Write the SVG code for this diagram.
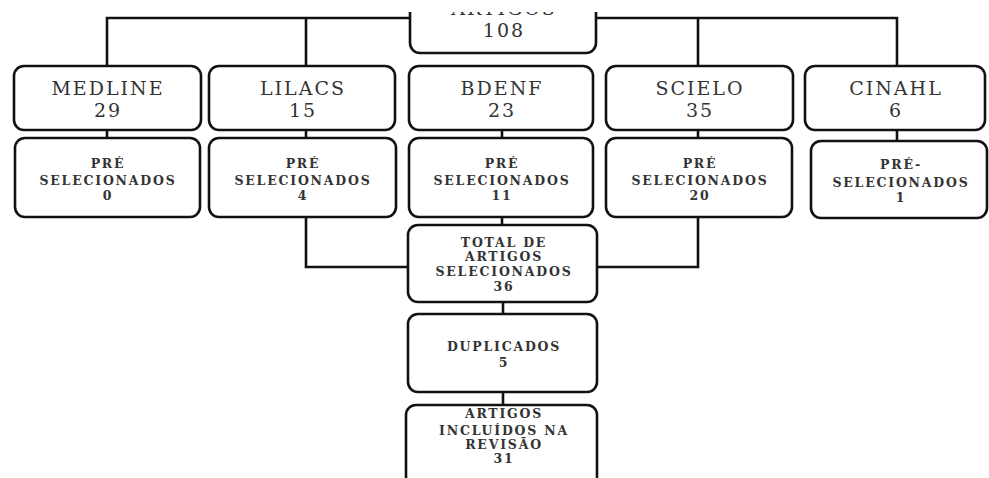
<svg xmlns="http://www.w3.org/2000/svg" width="989" height="478" viewBox="0 0 989 478">
<style>
.box{fill:#fff;stroke:#111;stroke-width:2.6}
.ln{fill:none;stroke:#111;stroke-width:2.6}
.big{font-family:"DejaVu Serif","Liberation Serif",serif;font-size:19px;fill:#333;text-anchor:middle;letter-spacing:2px}
.sm{font-family:"DejaVu Serif","Liberation Serif",serif;font-size:12.5px;font-weight:bold;fill:#333;text-anchor:middle;letter-spacing:1.8px}
</style>
<rect width="989" height="478" fill="#fff"/>
<g id="connectors">
<path class="ln" d="M107,66 V18 H410 M596,18 H897 V66 M306,18 V66 M698,18 V66"/>
<path class="ln" d="M107,130 V138 M306,130 V138 M502,130 V138 M698,130 V138 M897,130 V141"/>
<path class="ln" d="M306,217 V267 H408 M698,217 V267 H597 M502,217 V225"/>
<path class="ln" d="M503,302 V314 M503,392 V405"/>
</g>
<g id="n-total"><rect class="box" x="410" y="-30" width="186" height="83" rx="10"/>
<text class="big" x="504" y="15">ARTIGOS</text><text class="big" x="504" y="37">108</text></g>
<rect x="0" y="0" width="989" height="12" fill="#fff"/>
<g id="n-medline"><rect class="box" x="14" y="66" width="187" height="64" rx="10"/>
<text class="big" x="108" y="95">MEDLINE</text><text class="big" x="108" y="117">29</text></g>
<g id="n-lilacs"><rect class="box" x="209" y="66" width="186" height="64" rx="10"/>
<text class="big" x="303" y="95">LILACS</text><text class="big" x="303" y="117">15</text></g>
<g id="n-bdenf"><rect class="box" x="409" y="66" width="184" height="64" rx="10"/>
<text class="big" x="502" y="95">BDENF</text><text class="big" x="502" y="117">23</text></g>
<g id="n-scielo"><rect class="box" x="606" y="66" width="187" height="64" rx="10"/>
<text class="big" x="700" y="95">SCIELO</text><text class="big" x="700" y="117">35</text></g>
<g id="n-cinahl"><rect class="box" x="805" y="66" width="180" height="64" rx="10"/>
<text class="big" x="896" y="95">CINAHL</text><text class="big" x="896" y="117">6</text></g>
<g id="p-medline"><rect class="box" x="15" y="138" width="185" height="79" rx="10"/>
<text class="sm" x="108" y="168">PRÉ</text><text class="sm" x="108" y="185">SELECIONADOS</text><text class="sm" x="108" y="200">0</text></g>
<g id="p-lilacs"><rect class="box" x="209" y="138" width="187" height="79" rx="10"/>
<text class="sm" x="303" y="168">PRÉ</text><text class="sm" x="303" y="185">SELECIONADOS</text><text class="sm" x="303" y="200">4</text></g>
<g id="p-bdenf"><rect class="box" x="409" y="138" width="184" height="79" rx="10"/>
<text class="sm" x="502" y="168">PRÉ</text><text class="sm" x="502" y="185">SELECIONADOS</text><text class="sm" x="502" y="200">11</text></g>
<g id="p-scielo"><rect class="box" x="606" y="138" width="186" height="79" rx="10"/>
<text class="sm" x="700" y="168">PRÉ</text><text class="sm" x="700" y="185">SELECIONADOS</text><text class="sm" x="700" y="200">20</text></g>
<g id="p-cinahl"><rect class="box" x="811" y="141" width="176" height="77" rx="10"/>
<text class="sm" x="901" y="169">PRÉ-</text><text class="sm" x="901" y="187">SELECIONADOS</text><text class="sm" x="901" y="202">1</text></g>
<g id="n-selected"><rect class="box" x="408" y="225" width="189" height="77" rx="10"/>
<text class="sm" x="504" y="247">TOTAL DE</text><text class="sm" x="504" y="261">ARTIGOS</text><text class="sm" x="504" y="276">SELECIONADOS</text><text class="sm" x="504" y="291">36</text></g>
<g id="n-dup"><rect class="box" x="408" y="314" width="189" height="78" rx="10"/>
<text class="sm" x="504" y="351">DUPLICADOS</text><text class="sm" x="504" y="367">5</text></g>
<g id="n-incl"><rect class="box" x="406" y="405" width="191" height="90" rx="10"/>
<text class="sm" x="504" y="418">ARTIGOS</text><text class="sm" x="504" y="435">INCLUÍDOS NA</text><text class="sm" x="504" y="449">REVISÃO</text><text class="sm" x="504" y="463">31</text></g>
</svg>
